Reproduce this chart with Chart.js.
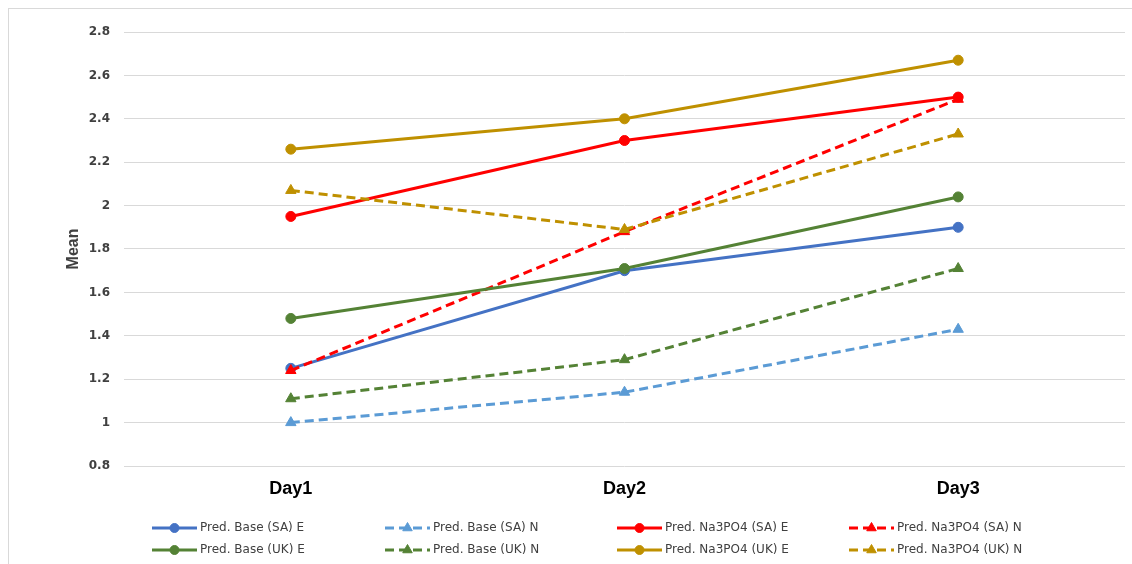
<!DOCTYPE html>
<html>
<head>
<meta charset="utf-8">
<script src="https://cdn.jsdelivr.net/npm/chart.js@4"></script>
<style>
  body { margin: 0; background: #fff; }
  #wrap { position: relative; width: 1132px; height: 564px; }
</style>
</head>
<body>
<div id="wrap"><canvas id="chart" width="1132" height="564"></canvas></div>
<script>
const days = ['Day1', 'Day2', 'Day3'];
const seriesNames = [
  'Pred. Base (SA) E', 'Pred. Base (SA) N', 'Pred. Na3PO4 (SA) E', 'Pred. Na3PO4 (SA) N',
  'Pred. Base (UK) E', 'Pred. Base (UK) N', 'Pred. Na3PO4 (UK) E', 'Pred. Na3PO4 (UK) N'
];
const baseSaE = [1.25, 1.70, 1.90];
const baseSaN = [1.00, 1.14, 1.43];
const naSaE = [1.95, 2.30, 2.50];
const naSaN = [1.24, 1.88, 2.49];
const baseUkE = [1.48, 1.71, 2.04];
const baseUkN = [1.11, 1.29, 1.71];
const naUkE = [2.26, 2.40, 2.67];
const naUkN = [2.07, 1.89, 2.33];
const yTicks = [0.8, 1, 1.2, 1.4, 1.6, 1.8, 2, 2.2, 2.4, 2.6, 2.8];

const values = [baseSaE, baseSaN, naSaE, naSaN, baseUkE, baseUkN, naUkE, naUkN];
const colors = ['#4472C4', '#5B9BD5', '#FF0000', '#FF0000', '#548235', '#548235', '#BF9000', '#BF9000'];
const dashed = [false, true, false, true, false, true, false, true];

const datasets = values.map((v, i) => ({
  label: seriesNames[i],
  data: v,
  borderColor: colors[i],
  backgroundColor: colors[i],
  borderWidth: 3,
  borderDash: dashed[i] ? [9, 5] : [],
  pointStyle: dashed[i] ? 'triangle' : 'circle',
  pointRadius: dashed[i] ? 6 : 5,
  pointBorderWidth: 1,
  tension: 0,
  order: values.length - 1 - i
}));

// frame + legend laid out in a fixed 4-column grid
const frameLegend = {
  id: 'frameLegend',
  beforeDraw(chart) {
    const ctx = chart.ctx;
    ctx.save();
    ctx.strokeStyle = '#d9d9d9';
    ctx.lineWidth = 1;
    ctx.strokeRect(8.5, 8.5, 1140, 600);
    ctx.restore();
  },
  afterDraw(chart) {
    const ctx = chart.ctx;
    const colX = [152, 385, 617, 849];
    const rowY = [528, 550];
    ctx.save();
    chart.data.datasets.forEach((ds, i) => {
      const x = colX[i % 4];
      const y = rowY[Math.floor(i / 4)];
      ctx.strokeStyle = ds.borderColor;
      ctx.fillStyle = ds.borderColor;
      ctx.lineWidth = 3;
      ctx.setLineDash(ds.borderDash.length ? [9, 5] : []);
      ctx.beginPath();
      ctx.moveTo(x, y);
      ctx.lineTo(x + 45, y);
      ctx.stroke();
      ctx.setLineDash([]);
      ctx.lineWidth = 1;
      Chart.helpers.drawPoint(ctx, {pointStyle: ds.pointStyle, radius: ds.pointRadius - 0.5, borderWidth: 1}, x + 22.5, y);
      ctx.fillStyle = '#404040';
      ctx.font = '12px "DejaVu Sans"';
      ctx.textBaseline = 'middle';
      ctx.fillText(ds.label, x + 48, y);
    });
    ctx.restore();
  }
};

new Chart(document.getElementById('chart'), {
  type: 'line',
  data: { labels: days, datasets: datasets },
  plugins: [frameLegend],
  options: {
    responsive: false,
    animation: false,
    layout: { padding: { left: 60, right: 4, top: 32, bottom: 0 } },
    plugins: {
      legend: { display: false },
      tooltip: { enabled: false }
    },
    scales: {
      x: {
        offset: true,
        grid: { display: false, drawTicks: false },
        border: { display: false },
        ticks: { color: '#000', padding: 12, font: { family: 'Liberation Sans', size: 18, weight: 'bold' } },
        afterFit: (scale) => { scale.height = 98; }
      },
      y: {
        min: 0.8,
        max: 2.8,
        afterBuildTicks: (scale) => { scale.ticks = yTicks.map(v => ({ value: v })); },
        grid: { color: '#d9d9d9', lineWidth: 1, drawTicks: false },
        border: { display: false },
        ticks: {
          color: '#404040', padding: 14,
          font: { family: 'DejaVu Sans', size: 12, weight: 'bold' },
          callback: (v) => String(Math.round(v * 10) / 10)
        },
        title: {
          display: true, text: 'Mean', color: '#404040',
          padding: { top: 4, bottom: 0 },
          font: { family: 'Liberation Sans', size: 16, weight: 'bold' }
        },
        afterFit: (scale) => { scale.width = 64; }
      }
    }
  }
});
</script>
</body>
</html>
